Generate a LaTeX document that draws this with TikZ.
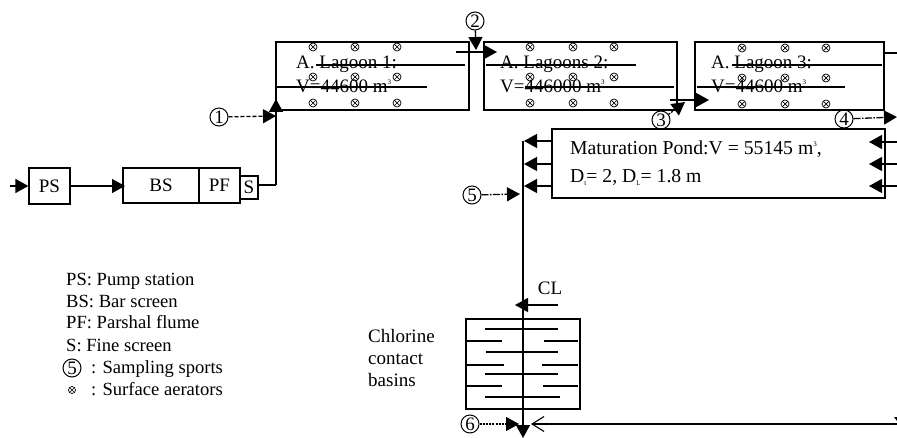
\documentclass[tikz,border=0pt]{standalone}
\usepackage{fontspec}
\setmainfont{Liberation Serif}
\usetikzlibrary{arrows.meta}
\newcommand{\fs}[1]{\fontsize{#1}{#1}\selectfont}
\newcommand{\tinysup}[1]{\raisebox{8pt}{\fs{7}#1}}
\newcommand{\tinysub}[1]{\raisebox{-3pt}{\fs{7}#1}}
\tikzset{
  x=1pt,y=-1pt,
  line/.style={line width=1.3pt,draw=black},
  flow/.style={line,-{Triangle[length=13pt,width=14pt]}},
  openflow/.style={line,-{Straight Barb[length=12pt,width=15pt,line width=1.1pt]}},
  dashflow/.style={flow,dash pattern=on 4pt off 2pt},
  dashdotflow/.style={flow,dash pattern=on 7pt off 1.5pt on 1.5pt off 1.5pt},
  dotflow/.style={flow,dash pattern=on 2pt off 1.2pt},
  boxn/.style={draw=black,line width=1.3pt,inner sep=0pt,font=\fs{19}},
  txt/.style={inner sep=0pt,anchor=base west,font=\fs{19}},
  mattxt/.style={inner sep=0pt,anchor=base west,font=\fs{19.7}},
  legendtxt/.style={inner sep=0pt,anchor=base west,font=\fs{18.6}},
  numc/.style={circle,draw=black,line width=1pt,inner sep=0pt,minimum size=18pt,font=\fs{19}},
  aer/.style={circle,draw=black,line width=0.7pt,inner sep=0pt,minimum size=8pt,
    path picture={\draw[line width=0.7pt] (path picture bounding box.north west)--(path picture bounding box.south east)
      (path picture bounding box.north east)--(path picture bounding box.south west);}},
  stroke/.style={line width=1.3pt,draw=black},
  baffle/.style={line width=1.3pt,draw=black}
}
\newcommand{\aerators}[6]{%
  \foreach \xx in {#1,#2,#3}{\foreach \yy in {#4,#5,#6}{\node[aer] at (\xx,\yy) {};}}}
\begin{document}
\begin{tikzpicture}
\useasboundingbox (0,0) rectangle (897,438);
% boxes
\node[boxn,minimum width=41pt,minimum height=36pt] (ps) at (49.5,186) {PS};
\node[boxn,minimum width=76pt,minimum height=35pt] (bs) at (161,185.5) {BS};
\node[boxn,minimum width=41pt,minimum height=35pt] (pf) at (219.5,185.5) {PF};
\node[boxn,minimum width=18pt,minimum height=23pt] (s) at (249,187.5) {S};
\draw[line] (276,42) rectangle (469,110);
\draw[line] (484,42) rectangle (677,110);
\draw[line] (695,42) rectangle (884,110);
\node[draw=black,line width=1.3pt,minimum width=333pt,minimum height=69pt,inner sep=0pt] (mp) at (718.5,163.5) {};
\node[draw=black,line width=1.3pt,minimum width=114pt,minimum height=90pt,inner sep=0pt] (cb) at (523,364) {};
% aerators
\aerators{313}{355}{397}{47}{77}{103}
\aerators{530}{573}{614}{47}{77}{103}
\aerators{742}{785}{826}{48}{78}{104}
% lagoon text
\node[txt] (t1a) at (296,69) {A. Lagoon 1:};
\node[txt] (t1b) at (296,93) {V=44600 m\tinysup{3}};
\node[txt] (t2a) at (500,69) {A. Lagoons 2:};
\node[txt] (t2b) at (500,93) {V=446000 m\tinysup{3}};
\node[txt] (t3a) at (711,69) {A. Lagoon 3:};
\node[txt] (t3b) at (711,93) {V=44600 m\tinysup{3}};
\draw[stroke] (316,65) -- (465,65);
\draw[stroke] (276,87) -- (427,87);
\draw[stroke] (486,65) -- (636,65);
\draw[stroke] (525,87) -- (674,87);
\draw[stroke] (732,65) -- (882,65);
\draw[stroke] (697,87) -- (845,87);
% maturation text
\node[mattxt] (m1) at (570,155) {Maturation Pond:V = 55145 m\tinysup{3},};
\node[mattxt] (m2) at (570,183) {D\tinysub{t}= 2, D\tinysub{L}= 1.8 m};
% numbered circles
\node[numc] (n1) at (219,117) {1};
\node[numc] (n2) at (475,21) {2};
\node[numc] (n3) at (661,120) {3};
\node[numc] (n4) at (844,119) {4};
\node[numc] (n5) at (472,195) {5};
\node[numc] (n6) at (470,424) {6};
% free coordinates
\coordinate (in) at (10,186);
\coordinate (up0) at (276,185);
\coordinate (up1) at (276,99);
\coordinate (j1) at (276,116);
\coordinate (l2in0) at (456,52);
\coordinate (l2in) at (497,52);
\coordinate (j2) at (476,50);
\coordinate (l3in0) at (670,100);
\coordinate (l3in) at (709,100);
\coordinate (j3) at (685,102);
\coordinate (e4) at (897,117);
\coordinate (l3o) at (897,53);
\coordinate (main0) at (523,141);
\coordinate (main1) at (523,438);
\coordinate (j5) at (520,194);
\coordinate (clr) at (558,305);
\coordinate (cll) at (515,305);
\coordinate (j6) at (519,424);
\coordinate (ret0) at (897,424);
\coordinate (ret1) at (531,424);
% connectors
\draw[flow] (in) -- (ps.west);
\draw[flow] (ps.east) -- (125,186);
\draw[line] (258,185) -- (up0);
\draw[flow] (up0) -- (up1);
\draw[dashflow] (n1) -- (j1);
\draw[flow] (l2in0) -- (l2in);
\draw[flow] (n2) -- (j2);
\draw[flow] (l3in0) -- (l3in);
\draw[dotflow] (n3) -- (j3);
\draw[dashdotflow] (n4) -- (e4);
\draw[line] (884,53) -- (l3o);
\draw[flow] (897,142) -- (869,142);
\draw[flow] (897,164) -- (869,164);
\draw[flow] (897,186) -- (869,186);
\draw[flow] (552,141) -- (524,141);
\draw[flow] (552,164) -- (524,164);
\draw[flow] (552,186) -- (524,186);
\draw[flow] (main0) -- (main1);
\draw[dashdotflow] (n5) -- (j5);
\node[inner sep=0pt,font=\fs{19},anchor=base] (cl) at (550,295) {CL};
\draw[flow] (clr) -- (cll);
\draw[dotflow] (n6) -- (j6);
\draw[openflow] (ret0) -- (ret1);
\fill[black] (894,417) -- (897,417) -- (897,421) -- cycle;
% baffles
\foreach \yy/\a/\b in {329/485/558,352/486/558,374/485/558,397/485/560,
  341/466/502,341/544/578,365/466/504,365/542/578,386/466/502,386/543/578}
  {\draw[baffle] (\a,\yy) -- (\b,\yy);}
% chlorine label
\node[txt] (c1) at (368,342) {Chlorine};
\node[txt] (c2) at (368,364) {contact};
\node[txt] (c3) at (368,386) {basins};
% legend
\node[legendtxt] (lg1) at (66,286) {PS: Pump station};
\node[legendtxt] (lg2) at (66,308) {BS: Bar screen};
\node[legendtxt] (lg3) at (66,329) {PF: Parshal flume};
\node[legendtxt] (lg4) at (66,352) {S: Fine screen};
\node[numc] (lg5c) at (72,368) {5};
\node[legendtxt] (lg5) at (91,373) {: Sampling sports};
\node[aer,minimum size=7pt] (lg6c) at (72,390) {};
\node[legendtxt] (lg6) at (91,395) {: Surface aerators};
\end{tikzpicture}
\end{document}
